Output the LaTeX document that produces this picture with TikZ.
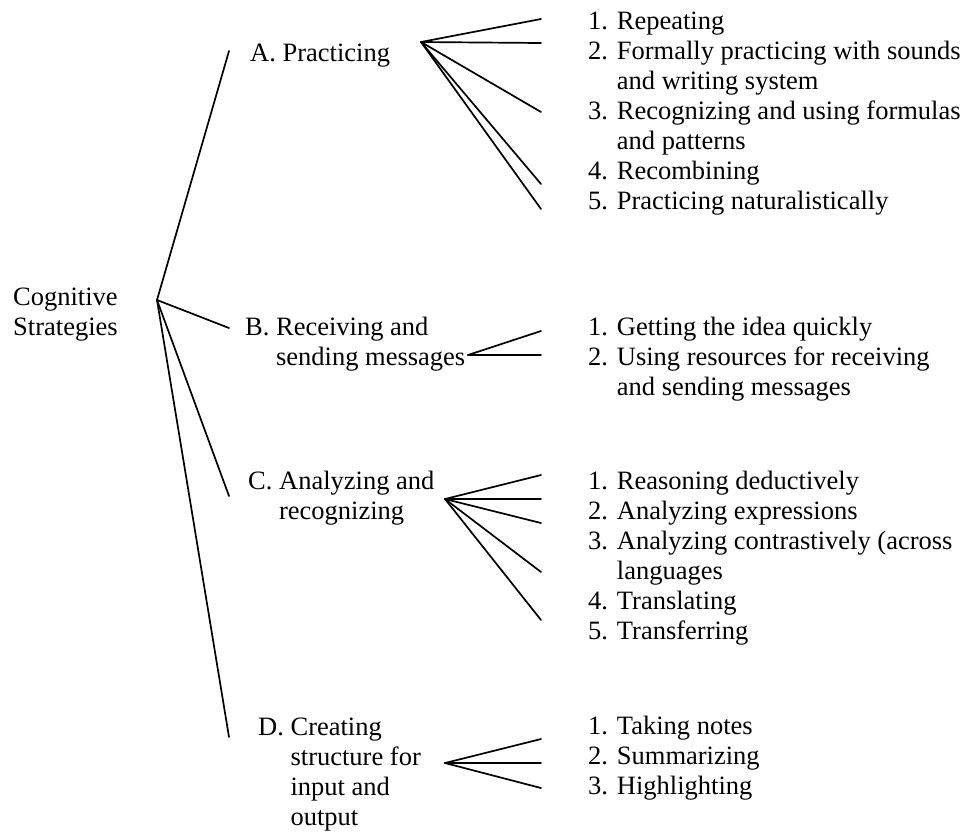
\documentclass[tikz,border=0pt]{standalone}
\usepackage{fontspec}
\setmainfont{Liberation Serif}
\newcommand{\linesof}[1]{\begin{tabular}[t]{@{}l@{}}#1\end{tabular}}
\begin{document}
\begin{tikzpicture}[x=1pt,y=-1pt,
  lbl/.style={anchor=base west, inner sep=0pt, font=\fontsize{26.5}{30}\selectfont},
  branch/.style={line width=1.7pt, line cap=round}]
\useasboundingbox (0,0) rectangle (963,831);

% root and the four groups
\node[lbl] (root) at (13,305) {\linesof{Cognitive\\Strategies}};
\node[lbl] (pA) at (250,61) {\linesof{A. Practicing}};
\node[lbl] (pB) at (245,335) {\linesof{B. Receiving and\\\phantom{B. }sending messages}};
\node[lbl] (pC) at (248,489) {\linesof{C. Analyzing and\\\phantom{C. }recognizing}};
\node[lbl] (pD) at (258,735) {\linesof{D. Creating\\\phantom{D. }structure for\\\phantom{D. }input and\\\phantom{D. }output}};

% strategy lists
\node[lbl] (iA) at (588,29) {\linesof{1. Repeating\\
  2. Formally practicing with sounds\\
  \phantom{2. }and writing system\\
  3. Recognizing and using formulas\\
  \phantom{3. }and patterns\\
  4. Recombining\\
  5. Practicing naturalistically}};
\node[lbl] (iB) at (588,335) {\linesof{1. Getting the idea quickly\\
  2. Using resources for receiving\\
  \phantom{2. }and sending messages}};
\node[lbl] (iC) at (588,489) {\linesof{1. Reasoning deductively\\
  2. Analyzing expressions\\
  3. Analyzing contrastively (across\\
  \phantom{3. }languages\\
  4. Translating\\
  5. Transferring}};
\node[lbl] (iD) at (588,734) {\linesof{1. Taking notes\\
  2. Summarizing\\
  3. Highlighting}};

% fork points
\coordinate (jR) at (157,300);
\coordinate (jA) at (421,42);
\coordinate (jB) at (468,355);
\coordinate (jC) at (445,499);
\coordinate (jD) at (445,763);

% root fan
\coordinate (eA) at (229,51);
\coordinate (eB) at (229,328);
\coordinate (eC) at (229,496);
\coordinate (eD) at (229,737);
\foreach \e in {eA,eB,eC,eD} \draw[branch] (jR) -- (\e);

% group fans
\foreach \y [count=\k] in {19,43,112,184,209} {
  \coordinate (eA\k) at (541,\y);
  \draw[branch] (jA) -- (eA\k);
}
\foreach \y [count=\k] in {331,355} {
  \coordinate (eB\k) at (541,\y);
  \draw[branch] (jB) -- (eB\k);
}
\foreach \y [count=\k] in {475,499,523,572,620} {
  \coordinate (eC\k) at (541,\y);
  \draw[branch] (jC) -- (eC\k);
}
\foreach \y [count=\k] in {739,763,788} {
  \coordinate (eD\k) at (541,\y);
  \draw[branch] (jD) -- (eD\k);
}
\end{tikzpicture}
\end{document}
